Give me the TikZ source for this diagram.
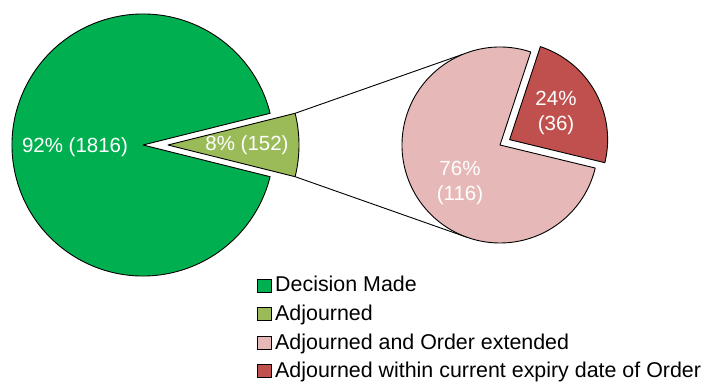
\documentclass[tikz,border=0pt]{standalone}
\usepackage{fontspec}
\setmainfont{Liberation Sans}
\usetikzlibrary{calc}
\definecolor{cgreen}{HTML}{00B050}
\definecolor{colive}{HTML}{9BBB59}
\definecolor{cpink}{HTML}{E6B9B8}
\definecolor{cred}{HTML}{C0504D}
\begin{document}
\begin{tikzpicture}[x=1pt,y=1pt,
  slice/.style={draw=black, line width=0.9pt, line join=round},
  conn/.style={draw=black, line width=0.9pt},
  lbl/.style={text=white, font=\fontsize{20.5}{24.5}\selectfont, align=center, inner sep=0},
  legtxt/.style={anchor=base west, inner sep=0, font=\fontsize{21.4}{25}\selectfont},
  legbox/.style={draw=black, line width=0.8pt}]
\useasboundingbox (0,0) rectangle (704,383);
\coordinate (C1) at (143,238);
\coordinate (C1x) at (168,238);
\coordinate (C2) at (500,238);
\coordinate (C2x) at ($(C2)+(29:11)$);
% big pie
\path[slice, fill=cgreen] (C1) -- ($(C1)+(14:131)$) arc[start angle=14, end angle=346, radius=131] -- cycle;
\path[slice, fill=colive] (C1x) -- ($(C1x)+(-14:131)$) arc[start angle=-14, end angle=14, radius=131] -- cycle;
% connectors
\coordinate (T1) at ($(C1x)+(14:131)$);
\coordinate (B1) at ($(C1x)+(-14:131)$);
\coordinate (T2) at ($(C2)+(112:98)$);
\coordinate (B2) at ($(C2)+(250.5:98)$);
\draw[conn] (T1) -- (T2);
\draw[conn] (B1) -- (B2);
% small pie
\path[slice, fill=cpink] (C2) -- ($(C2)+(71.7:98)$) arc[start angle=71.7, end angle=346.4, radius=98] -- cycle;
\path[slice, fill=cred] (C2x) -- ($(C2x)+(-13.6:98)$) arc[start angle=-13.6, end angle=71.7, radius=98] -- cycle;
% labels
\node[lbl] (l1) at (75,236) {92\% (1816)};
\node[lbl] (l2) at (247,238) {8\% (152)};
\node[lbl] (l3) at (460,200) {76\%\\(116)};
\node[lbl] (l4) at (556,270) {24\%\\(36)};
% legend
\draw[legbox, fill=cgreen] (257,91) rectangle ++(14,13);
\node[legtxt] (g1) at (275,91) {Decision Made};
\draw[legbox, fill=colive] (257,62.5) rectangle ++(14,13);
\node[legtxt] (g2) at (275,62.5) {Adjourned};
\draw[legbox, fill=cpink] (257,34) rectangle ++(14,13);
\node[legtxt] (g3) at (275,34) {Adjourned and Order extended};
\draw[legbox, fill=cred] (257,5.5) rectangle ++(14,13);
\node[legtxt] (g4) at (275,5.5) {Adjourned within current expiry date of Order};
\end{tikzpicture}
\end{document}
